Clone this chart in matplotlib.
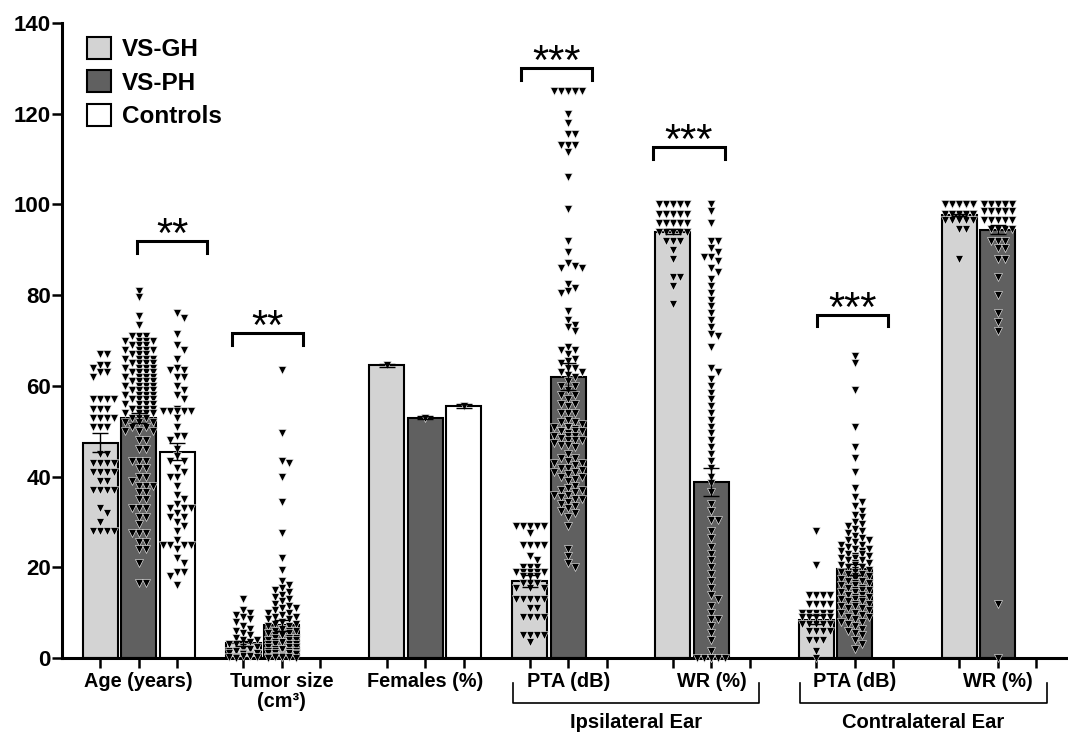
import numpy as np
import matplotlib
matplotlib.use("Agg")
import matplotlib.pyplot as plt
from matplotlib.patches import Patch

plt.rcParams['font.family'] = ['Liberation Sans', 'DejaVu Sans']
plt.rcParams['font.weight'] = 'bold'

# ---- data ----
categories = ["Age (years)", "Tumor size\n(cm³)", "Females (%)",
              "PTA (dB)", "WR (%)", "PTA (dB)", "WR (%)"]
series_names = ["VS-GH", "VS-PH", "Controls"]

gh_means = [47.5, 3.2, 64.5, 17.0, 94.0, 8.4, 97.7]
gh_sem = [2.1, 0.6, 0.4, 1.3, 0.6, 1.0, 0.3]
ph_means = [53.0, 7.2, 53.0, 62.0, 38.8, 19.6, 94.4]
ph_sem = [1.1, 1.2, 0.4, 3.0, 3.1, 1.2, 1.0]
ctrl_means = [45.5, None, 55.5, None, None, None, None]
ctrl_sem = [1.9, None, 0.4, None, None, None, None]

age_gh = [67, 67, 64.5, 64.5, 64, 63, 63, 62, 57, 57, 57, 57, 55, 55, 55, 53, 53, 53, 53,
          51, 51, 51, 45, 45, 43, 43, 43, 43, 41, 41, 41, 41, 39, 39, 37, 37, 37, 37,
          33, 32, 30, 28, 28, 28, 28]
age_ph = [81, 79.5, 75.5, 73.5, 71, 71, 71, 70, 70, 70, 70, 69, 69, 69, 68, 68, 68, 68,
          67, 67, 67, 66, 66, 66, 66, 65, 65, 65, 65, 65, 64, 64, 64, 64, 64,
          63, 63, 63, 63, 63, 63, 62, 62, 62, 62, 62, 62, 61, 61, 61, 61, 61, 61,
          60, 60, 60, 60, 60, 59, 59, 59, 59, 59, 59, 58, 58, 58, 58, 58,
          57, 57, 57, 57, 57, 56, 56, 56, 56, 55, 55, 55, 55, 55, 54, 54, 54, 54,
          53, 53, 53, 52, 52, 52, 51, 51, 50, 50, 50, 48, 48, 46, 46, 43.5, 43.5, 43.5,
          42, 42, 40, 40, 39, 38, 38, 38, 36.5, 36.5, 35, 35, 33, 33, 33, 31, 31, 29.5,
          27.5, 27.5, 27.5, 25.5, 25.5, 24, 24, 21, 16.5, 16.5]
age_ctrl = [76, 75, 71.5, 69, 68, 66, 64, 63.5, 63.5, 62, 62, 60, 59, 58, 57, 55,
            54.5, 54.5, 54.5, 54.5, 54.5, 53, 51, 49, 49, 48, 46, 44.5, 43.5, 43.5, 42,
            41, 40, 40, 38, 36, 35, 34, 33, 33, 33, 32, 31, 31, 30, 29, 28, 26,
            25, 25, 25, 25, 24, 22, 21, 19, 19, 18, 16]
tumor_gh = [13, 10.5, 10, 9.5, 9, 8.5, 8, 7, 6.5, 6, 5.5, 5, 4.5, 4, 4, 3.5, 3, 3, 2.5, 2.5,
            2, 2, 2, 1.5, 1.5, 1.5, 1, 1, 1, 1, 0.8, 0.6, 0.5, 0.5, 0.4, 0.3, 0.3, 0.2, 0.2, 0.1]
tumor_ph = [63.5, 49.5, 43.5, 43, 40, 34.5, 27.5, 22, 19.5, 17, 16, 15.5, 15, 14.5, 14,
            13.5, 13, 12.5, 12, 11.5, 11, 11, 10.5, 10, 10, 9.5, 9, 9, 8.5, 8.5, 8, 8,
            7.5, 7.5, 7, 7, 6.5, 6.5, 6, 6, 6, 5.5, 5.5, 5, 5, 5, 4.5, 4.5, 4.5, 4, 4, 4,
            3.5, 3.5, 3.5, 3, 3, 3, 3, 2.5, 2.5, 2.5, 2, 2, 2, 2, 1.5, 1.5, 1.5, 1.5,
            1, 1, 1, 1, 1, 0.8, 0.6, 0.5, 0.5, 0.4, 0.3, 0.3, 0.2, 0.2, 0.1, 0.1]
females_gh = [64.5]
females_ph = [53.0]
females_ctrl = [55.5]
pta_ipsi_gh = [29, 29, 29, 29, 29, 27.5, 25, 25, 25, 25, 22.5, 21.5, 20, 20, 20,
               19, 19, 19, 19, 19, 18, 18, 18, 16.5, 16.5, 16.5, 15.5, 15.5, 15.5,
               13, 13, 13, 13, 13, 11, 11, 9, 9, 9, 9, 5, 5, 5, 5, 3.5]
pta_ipsi_ph = [125, 125, 125, 125, 125, 125, 125, 120, 118, 115.5, 115.5, 113, 113, 113,
               111.5, 106, 99, 92, 89.5, 87, 86.5, 86, 86, 82.5, 81.5, 81, 80.5, 76.5,
               74.5, 73.5, 73, 72, 68.5, 68, 68, 67, 66, 65.5, 65, 64, 64, 63, 63, 62.5,
               62, 61, 60, 60, 59, 58, 58, 57, 56, 56, 55.5, 54, 54, 54, 52.5, 52, 52,
               51.5, 51, 51, 51, 50.5, 50, 50, 50, 50, 49.5, 49, 49, 49, 48.5, 48, 48, 48,
               47.5, 47, 47, 46.5, 45, 44, 44, 43.5, 43, 43, 42.5, 42, 42, 41.5, 41, 41,
               40.5, 40, 40, 39.5, 39, 38, 37.5, 37, 37, 36.5, 36, 36, 35.5, 35, 35,
               34.5, 34, 33.5, 33, 32.5, 32, 31, 29, 24, 22.5, 21, 20]
wr_ipsi_gh = [100] * 7 + [98] * 8 + [96] * 8 + [94] * 5 + [92] * 3 + [90, 88, 84, 84, 82, 78]
wr_ipsi_ph = [100, 98.5, 96, 92, 92, 90.5, 89.5, 88.5, 88.5, 87.5, 86, 85, 83.5, 82, 80.5,
              79, 77.5, 76, 74.5, 73, 71.5, 71, 68.5, 64, 63, 61.5, 60, 58.5, 57, 55.5,
              54, 52.5, 51, 49.5, 48, 46.5, 45, 43.5, 42, 40, 38.5, 36.5, 34, 32.5, 30.5,
              30.5, 28, 26.5, 24.5, 23, 21.5, 20, 18.5, 17, 15.5, 14, 13, 11.5, 10, 8.5,
              8.5, 7, 5.5, 4, 1.5, 0, 0, 0, 0, 0, 0]
pta_c_gh = [28, 20.5, 14, 14, 14, 14, 12, 12, 12, 12, 10, 10, 10, 10, 10, 9, 9, 9, 9, 9, 9,
            7.5, 7.5, 7.5, 7.5, 7.5, 6, 6, 6, 6, 4, 4, 4, 1.5, 0]
pta_c_ph = [66.5, 65, 59, 51, 46.5, 44, 41, 37.5, 35.5, 34.5, 33.5, 32.5, 31.5, 31, 30,
            29.5, 29, 28.5, 28, 27.5, 27, 26.5, 26, 26, 25.5, 25, 25, 24.5, 24, 24, 24,
            23.5, 23.5, 23, 23, 22.5, 22.5, 22, 22, 21.5, 21.5, 21, 21, 20.5, 20.5, 20, 20,
            19.5, 19.5, 19, 19, 18.5, 18.5, 18, 18, 17.5, 17.5, 17, 17, 16.5, 16.5, 16, 16,
            15.5, 15.5, 15, 15, 15, 14.5, 14.5, 14, 14, 14, 13.5, 13.5, 13, 13, 13, 12.5,
            12.5, 12, 12, 11.5, 11.5, 11, 11, 10.5, 10, 10, 9.5, 9, 9, 8.5, 8, 8, 7.5, 7,
            6.5, 6, 5.5, 5, 4, 3, 2]
wr_c_gh = [100] * 12 + [98] * 9 + [96.5] * 6 + [94.5] * 2 + [88]
wr_c_ph = [100] * 12 + [98.5] * 8 + [96.5] * 5 + [94.5] * 4 + [92] * 3 + [90.5] * 2 + \
          [88, 88, 84, 80, 76, 74, 72, 12, 0]

gh_points = [age_gh, tumor_gh, females_gh, pta_ipsi_gh, wr_ipsi_gh, pta_c_gh, wr_c_gh]
ph_points = [age_ph, tumor_ph, females_ph, pta_ipsi_ph, wr_ipsi_ph, pta_c_ph, wr_c_ph]
ctrl_points = [age_ctrl, None, females_ctrl, None, None, None, None]

# significance brackets (x in bar slots, y in data units)
sig_left = [0.96, 3.43, 10.94, 14.36, 18.62]
sig_right = [2.78, 5.27, 12.78, 16.23, 20.47]
sig_y = [91.9, 71.6, 130.0, 112.6, 75.6]
sig_text = ["**", "**", "***", "***", "***"]

ear_labels = ["Ipsilateral Ear", "Contralateral Ear"]
ear_left = [10.73, 18.18]
ear_right = [17.12, 24.60]

colors = ["#d3d3d3", "#606060", "#ffffff"]

# ---- layout helpers ----
GROUP_STEP = 3.72
SLOT_PX = 38.5
UNIT_PX = 4.536


def swarm_offsets(values, max_half=0.47, mw=7.0, mh=6.0):
    """greedy beeswarm in pixel space, returns x offsets in slot units"""
    ys = np.asarray(values, dtype=float) * UNIT_PX
    order = np.argsort(-ys, kind="stable")
    lim = max_half * SLOT_PX
    cands = [0.0]
    k = 1
    while k * mw <= lim:
        cands += [k * mw, -k * mw]
        k += 1
    px, py = [], []
    offs = np.zeros(len(ys))
    for i in order:
        best, best_hits = 0.0, None
        for c in cands:
            hits = sum(1 for a, b in zip(px, py)
                       if abs(a - c) < mw * 0.95 and abs(b - ys[i]) < mh * 0.95)
            if hits == 0:
                best = c
                break
            if best_hits is None or hits < best_hits:
                best, best_hits = c, hits
        offs[i] = best
        px.append(best)
        py.append(ys[i])
    return offs / SLOT_PX


fig = plt.figure(figsize=(10.68, 7.33), dpi=100)
ax = fig.add_axes([62 / 1068, 1 - 658 / 733, (1066 - 62) / 1068, 635 / 733])

all_ticks = []
label_ticks = []
for g in range(len(categories)):
    start = g * GROUP_STEP
    all_ticks += [start, start + 1, start + 2]
    label_ticks.append(start + 1)
    for j, (means, sems, pts) in enumerate([(gh_means, gh_sem, gh_points),
                                            (ph_means, ph_sem, ph_points),
                                            (ctrl_means, ctrl_sem, ctrl_points)]):
        if means[g] is None:
            continue
        x = start + j
        ax.bar(x, means[g], width=0.91, color=colors[j], edgecolor="black",
               linewidth=1.5, zorder=2)
        if pts[g] is not None:
            offs = swarm_offsets(pts[g])
            ax.plot(x + offs, pts[g], linestyle="none", marker="v", markersize=6,
                    markerfacecolor="black", markeredgecolor="white",
                    markeredgewidth=0.4, zorder=3, clip_on=False)
        ax.errorbar(x, means[g], yerr=sems[g], fmt="none", ecolor="black",
                    elinewidth=1.0, capsize=6, capthick=1.0, zorder=4)

# significance brackets
for xl, xr, y, t in zip(sig_left, sig_right, sig_y, sig_text):
    ax.plot([xl, xl, xr, xr], [y - 2.5, y, y, y - 2.5], color="black", lw=2.2,
            solid_joinstyle="miter", zorder=5)
    ax.text((xl + xr) / 2, y - 1.3, t, ha="center", va="baseline", fontsize=30,
            fontweight="normal", zorder=5)

# ear brackets under the axis
for lab, xl, xr in zip(ear_labels, ear_left, ear_right):
    ax.plot([xl, xl, xr, xr], [-5.5, -9.9, -9.9, -5.5], color="black", lw=1.2,
            clip_on=False)
    ax.text((xl + xr) / 2, -14.2, lab, ha="center", va="center", fontsize=14.5,
            fontweight="bold", clip_on=False)

ax.set_xlim(-0.99, 25.09)
ax.set_ylim(0, 140)
ax.set_yticks(np.arange(0, 141, 20))
ax.set_xticks(all_ticks)
tick_labels = []
for t in all_ticks:
    tick_labels.append(categories[label_ticks.index(t)] if t in label_ticks else "")
ax.set_xticklabels(tick_labels, fontsize=14.3, fontweight="bold", linespacing=1.05)
for lbl in ax.get_yticklabels():
    lbl.set_fontsize(16)
    lbl.set_fontweight("bold")
ax.tick_params(axis="both", direction="out", length=7, width=1.8, pad=3)
ax.tick_params(axis="y", pad=1)
for side in ["top", "right"]:
    ax.spines[side].set_visible(False)
for side in ["left", "bottom"]:
    ax.spines[side].set_linewidth(2.2)

handles = [Patch(facecolor=c, edgecolor="black", linewidth=1.5) for c in colors]
ax.legend(handles, series_names, loc="upper left",
          bbox_to_anchor=(25 / 1004, 1 - 14 / 635), frameon=False, borderpad=0,
          borderaxespad=0, handlelength=1.0, handleheight=1.0, handletextpad=0.42,
          labelspacing=0.38, prop={"weight": "bold", "size": 17.5})

fig.savefig("out.png", dpi=100)
